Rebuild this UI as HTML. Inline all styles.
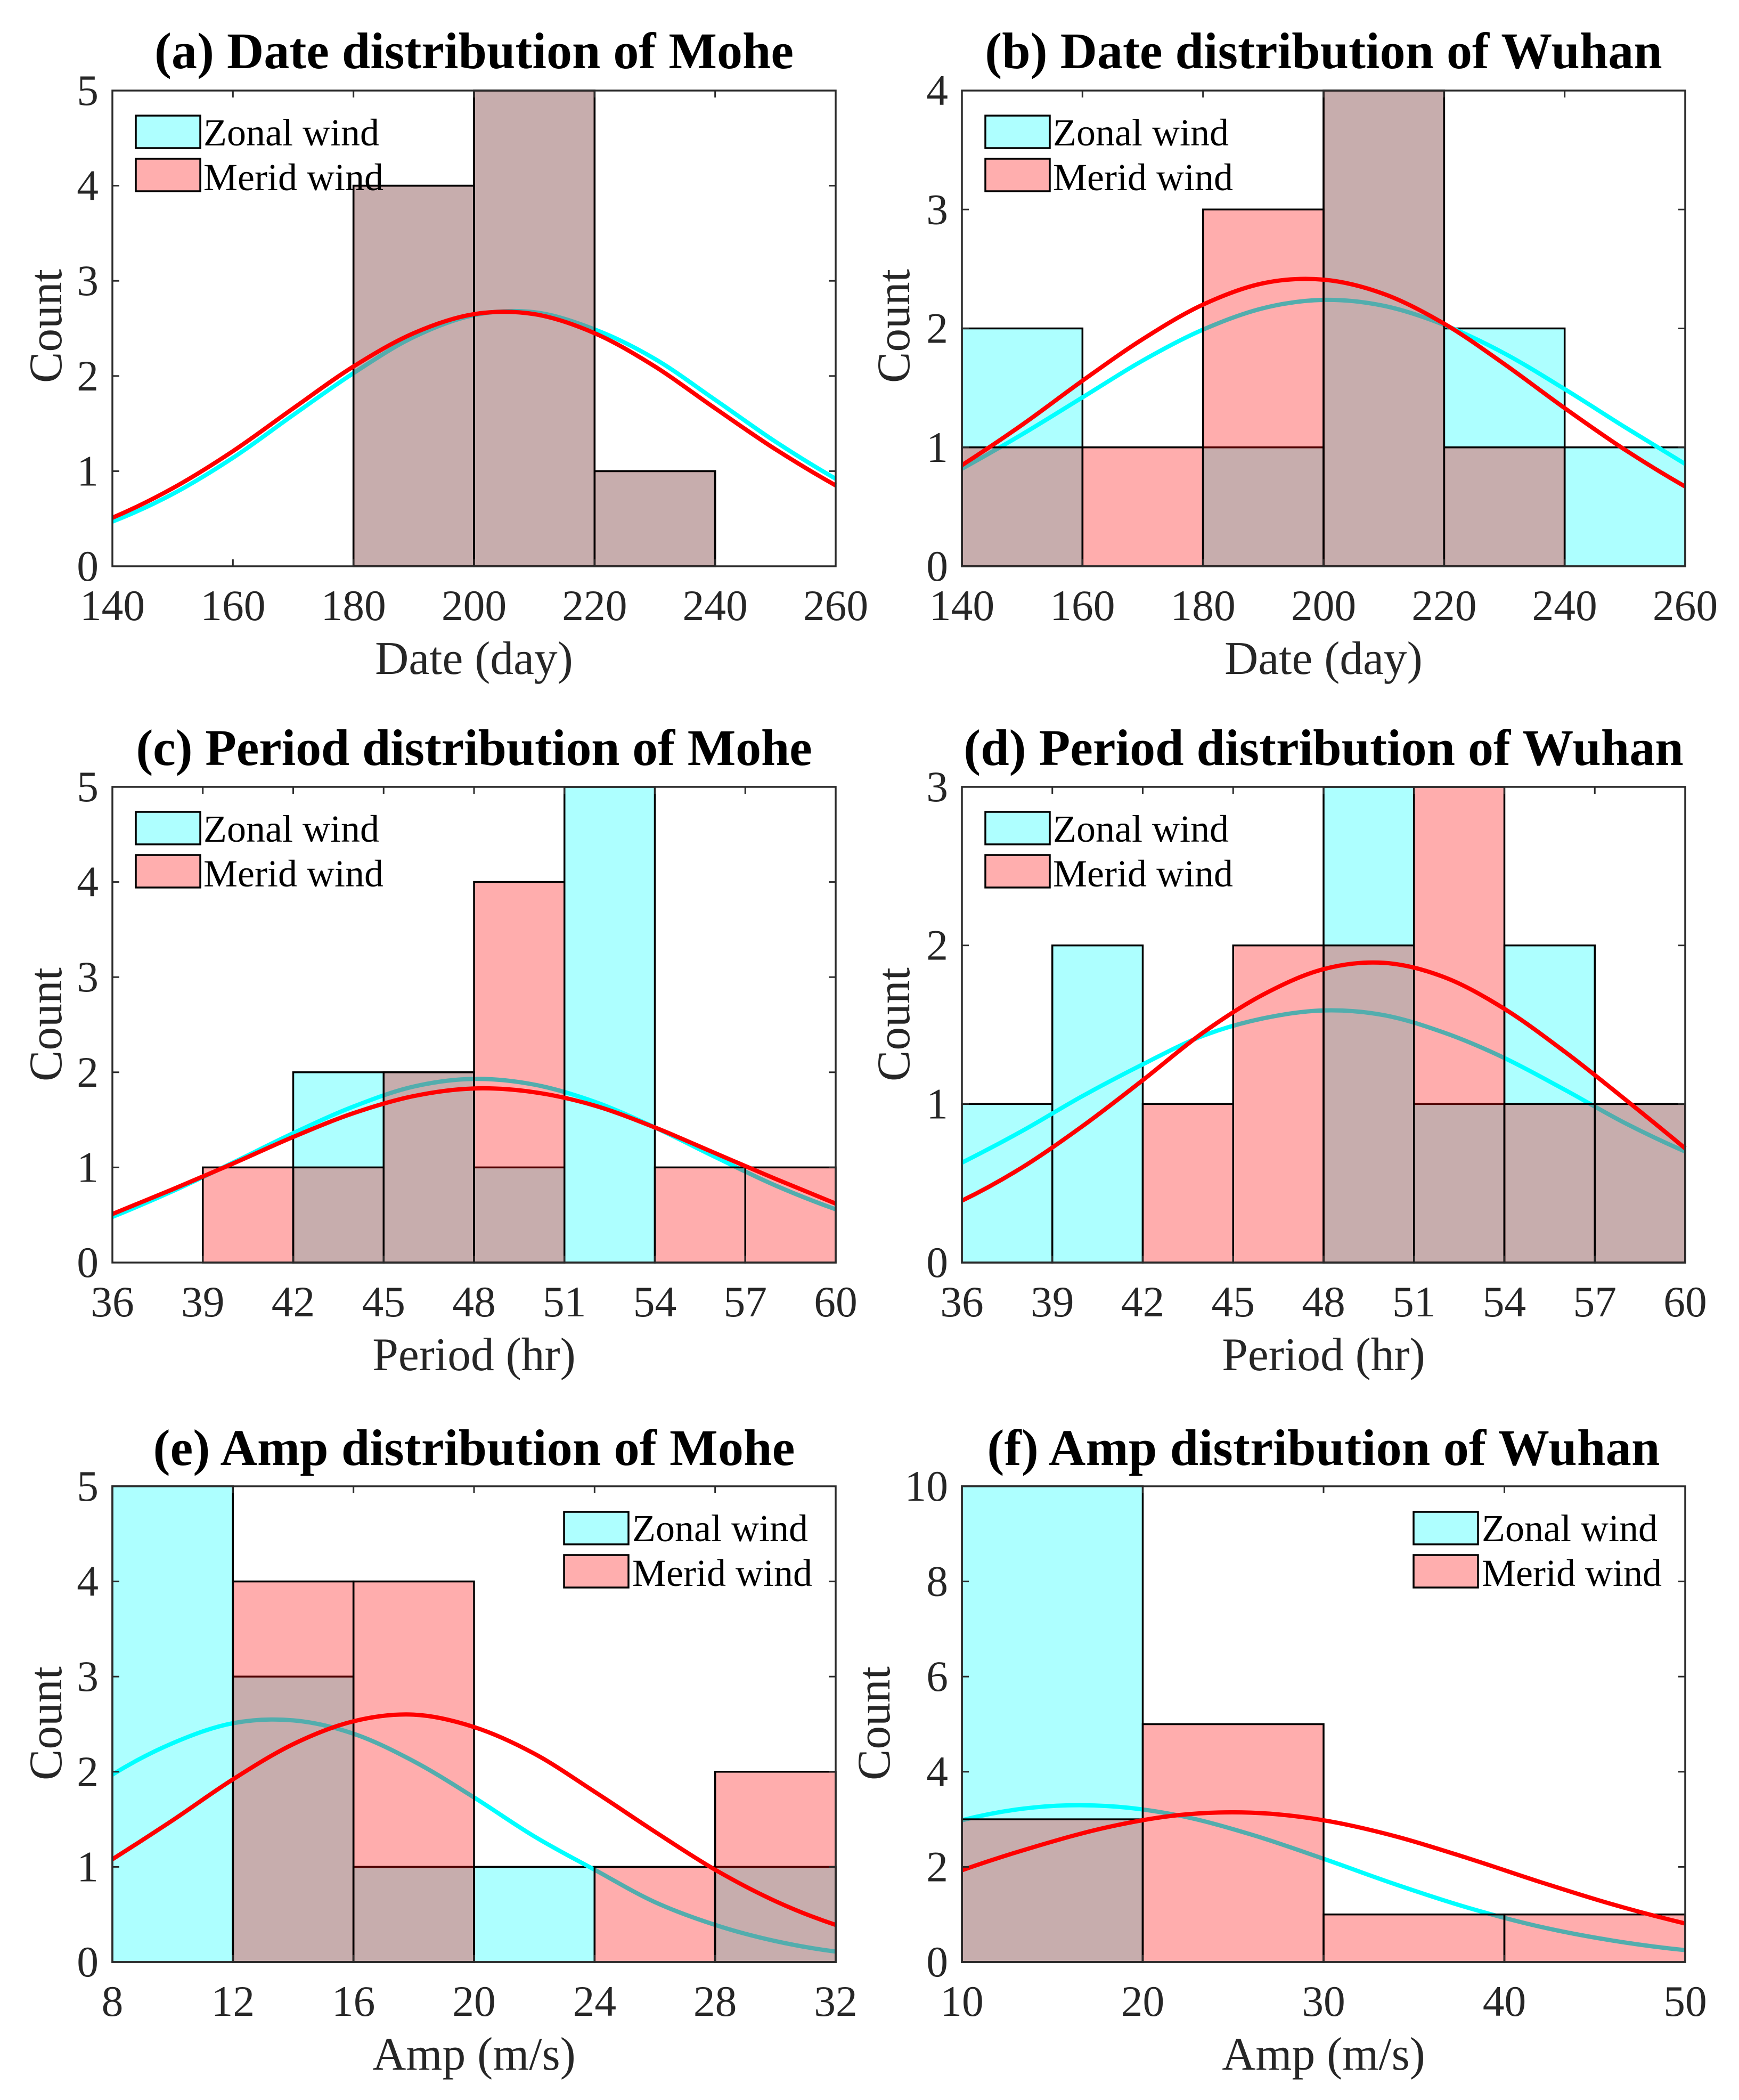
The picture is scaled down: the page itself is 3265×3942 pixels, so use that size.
<!DOCTYPE html>
<html lang="en">
<head>
<meta charset="utf-8">
<title>Wind distribution histograms of Mohe and Wuhan</title>
<style>
  html, body { margin: 0; padding: 0; background: #fff; }
  svg { display: block; font-family: "Liberation Serif", serif; }
  .title { font-size: 96px; font-weight: bold; fill: #000; text-anchor: middle; }
  .axis-label { font-size: 87.5px; fill: #262626; text-anchor: middle; }
  .tick-label { font-size: 81.5px; fill: #262626; }
  .legend-text { font-size: 72px; fill: #000; }
  .legend-box { stroke: #000; stroke-width: 3.5; }
</style>
</head>
<body>
<svg xmlns="http://www.w3.org/2000/svg" width="3265" height="3942" viewBox="0 0 3265 3942">

  <g transform="translate(211,170)">
    <g id="plot-a"></g>
    <text class="title" x="679" y="-42">(a) Date distribution of Mohe</text>
    <text class="axis-label" x="679" y="1095">Date (day)</text>
    <text class="axis-label" transform="translate(-96,442) rotate(-90)">Count</text>
    <rect class="legend-box" x="44" y="47" width="121" height="61" fill="#aeffff"/>
    <text class="legend-text" x="171" y="103">Zonal wind</text>
    <rect class="legend-box" x="44" y="128" width="121" height="61" fill="#ffaeae"/>
    <text class="legend-text" x="171" y="187">Merid wind</text>
  </g>

  <g transform="translate(1806,170)">
    <g id="plot-b"></g>
    <text class="title" x="679" y="-42">(b) Date distribution of Wuhan</text>
    <text class="axis-label" x="679" y="1095">Date (day)</text>
    <text class="axis-label" transform="translate(-99,442) rotate(-90)">Count</text>
    <rect class="legend-box" x="44" y="47" width="121" height="61" fill="#aeffff"/>
    <text class="legend-text" x="171" y="103">Zonal wind</text>
    <rect class="legend-box" x="44" y="128" width="121" height="61" fill="#ffaeae"/>
    <text class="legend-text" x="171" y="187">Merid wind</text>
  </g>

  <g transform="translate(211,1477)">
    <g id="plot-c"></g>
    <text class="title" x="679" y="-41" letter-spacing="-0.17">(c) Period distribution of Mohe</text>
    <text class="axis-label" x="679" y="1095">Period (hr)</text>
    <text class="axis-label" transform="translate(-96,446) rotate(-90)">Count</text>
    <rect class="legend-box" x="44" y="47" width="121" height="61" fill="#aeffff"/>
    <text class="legend-text" x="171" y="103">Zonal wind</text>
    <rect class="legend-box" x="44" y="128" width="121" height="61" fill="#ffaeae"/>
    <text class="legend-text" x="171" y="187">Merid wind</text>
  </g>

  <g transform="translate(1806,1477)">
    <g id="plot-d"></g>
    <text class="title" x="679" y="-41">(d) Period distribution of Wuhan</text>
    <text class="axis-label" x="679" y="1095">Period (hr)</text>
    <text class="axis-label" transform="translate(-99,446) rotate(-90)">Count</text>
    <rect class="legend-box" x="44" y="47" width="121" height="61" fill="#aeffff"/>
    <text class="legend-text" x="171" y="103">Zonal wind</text>
    <rect class="legend-box" x="44" y="128" width="121" height="61" fill="#ffaeae"/>
    <text class="legend-text" x="171" y="187">Merid wind</text>
  </g>

  <g transform="translate(211,2790)">
    <g id="plot-e"></g>
    <text class="title" x="679" y="-40" letter-spacing="0.18">(e) Amp distribution of Mohe</text>
    <text class="axis-label" x="679" y="1095">Amp (m/s)</text>
    <text class="axis-label" transform="translate(-96,445) rotate(-90)">Count</text>
    <rect class="legend-box" x="848" y="48" width="121" height="61" fill="#aeffff"/>
    <text class="legend-text" x="976" y="103">Zonal wind</text>
    <rect class="legend-box" x="848" y="129" width="121" height="61" fill="#ffaeae"/>
    <text class="legend-text" x="976" y="187">Merid wind</text>
  </g>

  <g transform="translate(1806,2790)">
    <g id="plot-f"></g>
    <text class="title" x="679" y="-40" letter-spacing="0.27">(f) Amp distribution of Wuhan</text>
    <text class="axis-label" x="679" y="1095">Amp (m/s)</text>
    <text class="axis-label" transform="translate(-136,445) rotate(-90)">Count</text>
    <rect class="legend-box" x="848" y="48" width="121" height="61" fill="#aeffff"/>
    <text class="legend-text" x="976" y="103">Zonal wind</text>
    <rect class="legend-box" x="848" y="129" width="121" height="61" fill="#ffaeae"/>
    <text class="legend-text" x="976" y="187">Merid wind</text>
  </g>
</svg>

<script>
/* Panel a: date, Mohe */
const aBinEdges = [140, 160, 180, 200, 220, 240, 260];
const aZonalCounts = [0, 0, 4, 5, 1, 0];
const aMeridCounts = [0, 0, 4, 5, 1, 0];
const aCurveX = [140, 150, 160, 170, 180, 190, 200, 210, 220, 230, 240, 250, 260];
const aZonalCurve = [0.47, 0.76, 1.14, 1.59, 2.03, 2.41, 2.64, 2.67, 2.49, 2.18, 1.75, 1.31, 0.92];
const aMeridCurve = [0.51, 0.82, 1.21, 1.66, 2.10, 2.45, 2.65, 2.65, 2.45, 2.10, 1.66, 1.23, 0.85];
const aXTicks = [140, 160, 180, 200, 220, 240, 260];
const aYTicks = [0, 1, 2, 3, 4, 5];

/* Panel b: date, Wuhan */
const bBinEdges = [140, 160, 180, 200, 220, 240, 260];
const bZonalCounts = [2, 0, 1, 4, 2, 1];
const bMeridCounts = [1, 1, 3, 4, 1, 0];
const bCurveX = [140, 150, 160, 170, 180, 190, 200, 210, 220, 230, 240, 250, 260];
const bZonalCurve = [0.82, 1.11, 1.42, 1.73, 1.99, 2.17, 2.24, 2.19, 2.03, 1.79, 1.49, 1.17, 0.86];
const bMeridCurve = [0.85, 1.19, 1.56, 1.91, 2.20, 2.38, 2.41, 2.29, 2.04, 1.70, 1.33, 0.98, 0.67];
const bXTicks = [140, 160, 180, 200, 220, 240, 260];
const bYTicks = [0, 1, 2, 3, 4];

/* Panel c: period, Mohe */
const cBinEdges = [36, 39, 42, 45, 48, 51, 54, 57, 60];
const cZonalCounts = [0, 0, 2, 2, 1, 5, 0, 0];
const cMeridCounts = [0, 1, 1, 2, 4, 0, 1, 1];
const cCurveX = [36, 38, 40, 42, 44, 46, 48, 50, 52, 54, 56, 58, 60];
const cZonalCurve = [0.48, 0.75, 1.05, 1.36, 1.64, 1.85, 1.93, 1.87, 1.69, 1.42, 1.11, 0.81, 0.56];
const cMeridCurve = [0.51, 0.77, 1.04, 1.32, 1.57, 1.75, 1.83, 1.79, 1.65, 1.42, 1.15, 0.88, 0.62];
const cXTicks = [36, 39, 42, 45, 48, 51, 54, 57, 60];
const cYTicks = [0, 1, 2, 3, 4, 5];

/* Panel d: period, Wuhan */
const dBinEdges = [36, 39, 42, 45, 48, 51, 54, 57, 60];
const dZonalCounts = [1, 2, 0, 0, 3, 1, 2, 1];
const dMeridCounts = [0, 0, 1, 2, 2, 3, 1, 1];
const dCurveX = [36, 38, 40, 42, 44, 46, 48, 50, 52, 54, 56, 58, 60];
const dZonalCurve = [0.63, 0.83, 1.05, 1.25, 1.43, 1.54, 1.59, 1.56, 1.45, 1.29, 1.09, 0.88, 0.70];
const dMeridCurve = [0.39, 0.60, 0.86, 1.15, 1.45, 1.69, 1.85, 1.89, 1.80, 1.60, 1.33, 1.03, 0.72];
const dXTicks = [36, 39, 42, 45, 48, 51, 54, 57, 60];
const dYTicks = [0, 1, 2, 3];

/* Panel e: amplitude, Mohe */
const eBinEdges = [8, 12, 16, 20, 24, 28, 32];
const eZonalCounts = [5, 3, 1, 1, 0, 1];
const eMeridCounts = [0, 4, 4, 0, 1, 2];
const eCurveX = [8, 10, 12, 14, 16, 18, 20, 22, 24, 26, 28, 30, 32];
const eZonalCurve = [1.97, 2.30, 2.51, 2.54, 2.40, 2.11, 1.73, 1.32, 0.97, 0.63, 0.39, 0.22, 0.11];
const eMeridCurve = [1.08, 1.49, 1.92, 2.29, 2.53, 2.60, 2.47, 2.19, 1.79, 1.37, 0.97, 0.64, 0.39];
const eXTicks = [8, 12, 16, 20, 24, 28, 32];
const eYTicks = [0, 1, 2, 3, 4, 5];

/* Panel f: amplitude, Wuhan */
const fBinEdges = [10, 20, 30, 40, 50];
const fZonalCounts = [10, 0, 0, 0];
const fMeridCounts = [3, 5, 1, 1];
const fCurveX = [10, 14, 18, 22, 26, 30, 34, 38, 42, 46, 50];
const fZonalCurve = [2.98, 3.25, 3.28, 3.08, 2.68, 2.17, 1.63, 1.14, 0.74, 0.45, 0.25];
const fMeridCurve = [1.93, 2.42, 2.83, 3.09, 3.14, 2.98, 2.64, 2.18, 1.68, 1.21, 0.81];
const fXTicks = [10, 20, 30, 40, 50];
const fYTicks = [0, 2, 4, 6, 8, 10];

const SVG_NS = 'http://www.w3.org/2000/svg';
const PLOT_W = 1358;
const PLOT_H = 893;

function makeEl(tag, attrs, parent) {
  const el = document.createElementNS(SVG_NS, tag);
  for (const k in attrs) el.setAttribute(k, attrs[k]);
  parent.appendChild(el);
  return el;
}

function phantom(a, b, c) {
  return [3 * a[0] - 3 * b[0] + c[0], 3 * a[1] - 3 * b[1] + c[1]];
}

function curvePath(xs, ys, sx, sy) {
  const pts = xs.map(function (x, i) { return [sx(x), sy(ys[i])]; });
  const n = pts.length;
  const all = [phantom(pts[0], pts[1], pts[2])].concat(pts, [phantom(pts[n - 1], pts[n - 2], pts[n - 3])]);
  let d = 'M' + pts[0][0].toFixed(1) + ' ' + pts[0][1].toFixed(1);
  for (let i = 1; i < all.length - 2; i++) {
    const p0 = all[i - 1];
    const p1 = all[i];
    const p2 = all[i + 1];
    const p3 = all[i + 2];
    const c1x = p1[0] + (p2[0] - p0[0]) / 6;
    const c1y = p1[1] + (p2[1] - p0[1]) / 6;
    const c2x = p2[0] - (p3[0] - p1[0]) / 6;
    const c2y = p2[1] - (p3[1] - p1[1]) / 6;
    d += 'C' + c1x.toFixed(1) + ' ' + c1y.toFixed(1) + ' ' + c2x.toFixed(1) + ' ' + c2y.toFixed(1) + ' ' + p2[0].toFixed(1) + ' ' + p2[1].toFixed(1);
  }
  return d;
}

function drawBars(g, edges, counts, color, sx, sy) {
  counts.forEach(function (c, i) {
    if (c <= 0) return;
    const x0 = sx(edges[i]);
    const x1 = sx(edges[i + 1]);
    const bar = makeEl('rect', {
      x: x0, y: sy(c), width: x1 - x0, height: sy(0) - sy(c),
      fill: color, 'fill-opacity': 0.32, stroke: 'none'
    }, g);
    
    
    const edge = makeEl('rect', {
      x: x0, y: sy(c), width: x1 - x0, height: sy(0) - sy(c),
      fill: 'none', stroke: '#000', 'stroke-width': 3.5
    }, g);
    
    
  });
}

function drawPanel(id, edges, zonal, merid, curveX, zonalCurve, meridCurve, xTicks, yTicks) {
  const g = document.getElementById('plot-' + id);
  const xMin = xTicks[0];
  const xMax = xTicks[xTicks.length - 1];
  const yMax = yTicks[yTicks.length - 1];
  const sx = function (v) { return (v - xMin) / (xMax - xMin) * PLOT_W; };
  const sy = function (v) { return PLOT_H - v / yMax * PLOT_H; };

  drawBars(g, edges, zonal, '#00ffff', sx, sy);

  const zonalLine = makeEl('path', {
    d: curvePath(curveX, zonalCurve, sx, sy),
    fill: 'none', stroke: '#00ffff', 'stroke-width': 8
  }, g);
  
  

  drawBars(g, edges, merid, '#ff0000', sx, sy);

  const meridLine = makeEl('path', {
    d: curvePath(curveX, meridCurve, sx, sy),
    fill: 'none', stroke: '#ff0000', 'stroke-width': 8
  }, g);
  
  

  const frame = makeEl('rect', {
    x: 0, y: 0, width: PLOT_W, height: PLOT_H,
    fill: 'none', stroke: '#2b2b2b', 'stroke-width': 3.5
  }, g);
  
  

  xTicks.forEach(function (t) {
    const x = sx(t);
    const low = makeEl('line', { x1: x, x2: x, y1: PLOT_H, y2: PLOT_H - 13, stroke: '#2b2b2b', 'stroke-width': 3 }, g);
    
    
    const high = makeEl('line', { x1: x, x2: x, y1: 0, y2: 13, stroke: '#2b2b2b', 'stroke-width': 3 }, g);
    
    
    const label = makeEl('text', { x: x, y: PLOT_H + 101, 'text-anchor': 'middle', class: 'tick-label' }, g);
    
    
    label.textContent = String(t);
  });

  yTicks.forEach(function (t) {
    const y = sy(t);
    const left = makeEl('line', { x1: 0, x2: 13, y1: y, y2: y, stroke: '#2b2b2b', 'stroke-width': 3 }, g);
    
    
    const right = makeEl('line', { x1: PLOT_W, x2: PLOT_W - 13, y1: y, y2: y, stroke: '#2b2b2b', 'stroke-width': 3 }, g);
    
    
    const label = makeEl('text', { x: -26, y: y + 27, 'text-anchor': 'end', class: 'tick-label' }, g);
    
    
    label.textContent = String(t);
  });
}

drawPanel('a', aBinEdges, aZonalCounts, aMeridCounts, aCurveX, aZonalCurve, aMeridCurve, aXTicks, aYTicks);
drawPanel('b', bBinEdges, bZonalCounts, bMeridCounts, bCurveX, bZonalCurve, bMeridCurve, bXTicks, bYTicks);
drawPanel('c', cBinEdges, cZonalCounts, cMeridCounts, cCurveX, cZonalCurve, cMeridCurve, cXTicks, cYTicks);
drawPanel('d', dBinEdges, dZonalCounts, dMeridCounts, dCurveX, dZonalCurve, dMeridCurve, dXTicks, dYTicks);
drawPanel('e', eBinEdges, eZonalCounts, eMeridCounts, eCurveX, eZonalCurve, eMeridCurve, eXTicks, eYTicks);
drawPanel('f', fBinEdges, fZonalCounts, fMeridCounts, fCurveX, fZonalCurve, fMeridCurve, fXTicks, fYTicks);
</script>
</body>
</html>
